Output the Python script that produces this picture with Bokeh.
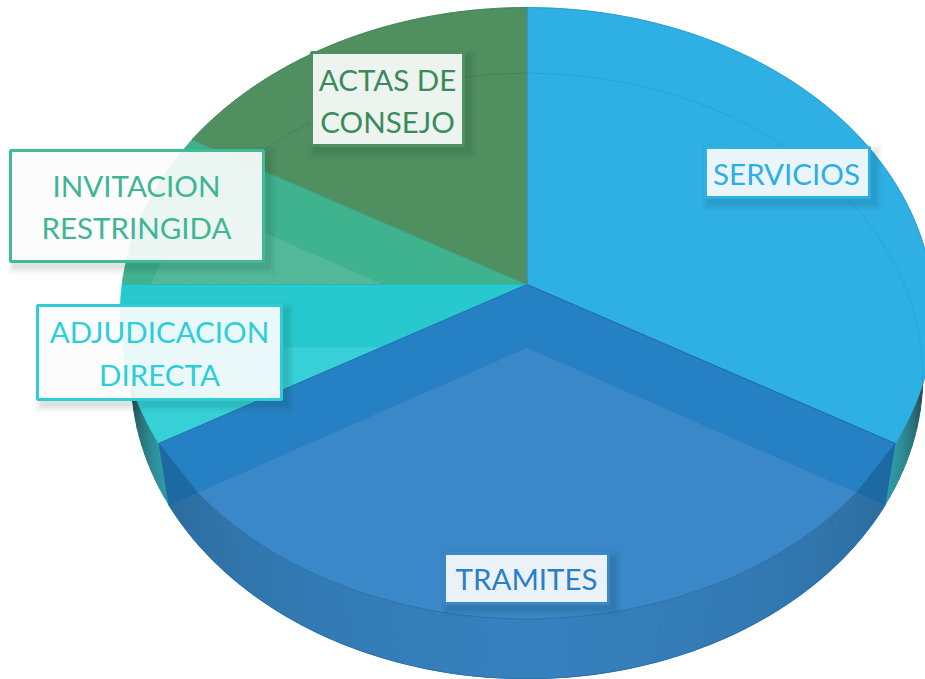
import math
from bokeh.plotting import figure
from bokeh.models import ColumnDataSource, Range1d
from bokeh.core.properties import value
from bokeh.embed import file_html
from bokeh.resources import INLINE

# ---- data ----
slice_names = ["SERVICIOS", "TRAMITES", "ADJUDICACION DIRECTA", "INVITACION RESTRINGIDA", "ACTAS DE CONSEJO"]
slice_values = [4, 4, 1, 1, 2]
slice_colors = ["#2EB0E4", "#2581C4", "#27C9CE", "#3FB28E", "#4F8F60"]
label_lines = [["SERVICIOS"], ["TRAMITES"], ["ADJUDICACION", "DIRECTA"], ["INVITACION", "RESTRINGIDA"], ["ACTAS DE", "CONSEJO"]]
text_colors = ["#2DAEE6", "#2A80C6", "#2DCED8", "#40B595", "#3A8A5C"]
border_colors = ["#2EB0E4", "#3A88C8", "#2DCCD6", "#42BA99", "#4F8F60"]

# label boxes: left, right, top, bottom; first line centre and line step
boxes = [(705, 869, 147, 197), (444, 608, 553, 603), (37, 281, 305, 399), (10, 263, 150, 261), (311, 463, 52, 145)]
text_xy = [(786, 173, 0), (526, 578, 0), (159, 331, 43), (136, 185, 42), (387, 79, 42)]

# ---- projection of the tilted disc ----
CX, RIM_Y, FLOOR_Y = 526.5, 284.0, 347.0
K = 0.094
RIM_W, RIM_H = 405.0, 303.0
FLOOR_W, FLOOR_H = 394.0, 300.0


def proj(theta, cy, W, H):
    a = math.radians(theta)
    u, v = math.sin(a), math.cos(a)
    w = 1 + K * v
    return CX + W * u / w, cy - H * v / w


def rim(t):
    return proj(t, RIM_Y, RIM_W, RIM_H)


def floor_(t):
    return proj(t, FLOOR_Y, FLOOR_W, FLOOR_H)


def rim_uv(x, y):
    Y = RIM_Y - y
    v = Y / (RIM_H - K * Y)
    u = (x - CX) * (1 + K * v) / RIM_W
    return u, v


def inside_rim(x, y):
    u, v = rim_uv(x, y)
    return u * u + v * v <= 1


def rim_angle(x, y):
    u, v = rim_uv(x, y)
    return math.degrees(math.atan2(u, v)) % 360


def arc(fn, a, b, n=48):
    return [fn(a + (b - a) * i / n) for i in range(n + 1)]


def lerp_hex(c1, c2, t):
    a = [int(c1[i:i + 2], 16) for i in (1, 3, 5)]
    b = [int(c2[i:i + 2], 16) for i in (1, 3, 5)]
    return "#%02x%02x%02x" % tuple(round(p + (q - p) * t) for p, q in zip(a, b))


total = sum(slice_values)
edges = [0.0]
for val in slice_values:
    edges.append(edges[-1] + 360.0 * val / total)
A_SERV, A_TRAM, A_ADJ, A_INV, A_ACT = edges[1], edges[2], edges[3], edges[4], edges[5]

p = figure(width=925, height=679, output_backend="svg", toolbar_location=None,
           x_range=Range1d(0, 925), y_range=Range1d(679, 0), min_border=0)
p.axis.visible = False
p.grid.visible = False
p.outline_line_color = None
p.background_fill_color = "white"
p.border_fill_color = "white"


def poly(points, fill, line=None, alpha=1.0, lw=1.0):
    xs = [q[0] for q in points]
    ys = [q[1] for q in points]
    p.patch(xs, ys, fill_color=fill, fill_alpha=alpha,
            line_color=line if line else fill, line_width=lw if line else 0.6, line_alpha=alpha if not line else 1)


def strips(quads, colors):
    src = ColumnDataSource(dict(x=[[q[0] for q in qd] for qd in quads],
                                y=[[q[1] for q in qd] for qd in quads], c=colors))
    p.patches("x", "y", source=src, fill_color="c", line_color="c", line_width=1.0)


def line_between(pts, color, lw=1.0, alpha=1.0):
    p.line([q[0] for q in pts], [q[1] for q in pts], line_color=color, line_width=lw, line_alpha=alpha)


def cross_line(end):
    lo, hi = (CX, FLOOR_Y), end
    for _ in range(50):
        mid = ((lo[0] + hi[0]) / 2, (lo[1] + hi[1]) / 2)
        if inside_rim(*mid):
            lo = mid
        else:
            hi = mid
    return lo


def cross_arc(start, step):
    t = start
    while not inside_rim(*floor_(t)):
        t += step
    return t


# --- side wall of the large front slice ---
N = 70
quads, cols = [], []
for i in range(N):
    t0 = A_SERV + (A_TRAM - A_SERV) * i / N
    t1 = A_SERV + (A_TRAM - A_SERV) * (i + 1) / N
    quads.append([rim(t0), rim(t1), floor_(t1), floor_(t0)])
    d = abs((t0 + t1) / 2 - 180) / 60
    cols.append(lerp_hex("#3680BD", "#2C6C9E", d ** 1.6))
strips(quads, cols)
line_between(arc(floor_, A_SERV, A_TRAM, 90), "#2B74AE", 1.2)

# --- small side walls at both ends ---
tf_l = cross_arc(A_TRAM, 0.25)
tr_l = rim_angle(*floor_(tf_l))
tf_r = cross_arc(A_SERV, -0.25)
tr_r = rim_angle(*floor_(tf_r))
M = 14
for fa, fb, ra, rb in ((A_TRAM, tf_l, A_TRAM, tr_l), (A_SERV, tf_r, A_SERV, tr_r)):
    quads, cols = [], []
    for i in range(M):
        s0, s1 = i / M, (i + 1) / M
        quads.append([rim(ra + (rb - ra) * s0), rim(ra + (rb - ra) * s1),
                      floor_(fa + (fb - fa) * s1), floor_(fa + (fb - fa) * s0)])
        cols.append(lerp_hex("#2F9DA6", "#24474F", s1 ** 1.3))
    strips(quads, cols)

# --- top surface slices ---
for name, a, b, col in zip(slice_names, edges[:-1], edges[1:], slice_colors):
    pts = [(CX, RIM_Y)] + arc(rim, a, b, 70)
    poly(pts, col)

# lighter floor seen through the cyan slice
edge_end = rim(A_TRAM)
sl = (edge_end[0] - CX) / (edge_end[1] - RIM_Y)
tip = (CX + sl * (FLOOR_Y - RIM_Y), FLOOR_Y)
poly([tip] + arc(floor_, A_ADJ, tf_l, 20) + arc(rim, tr_l, A_TRAM, 10), "#36D0D6")

# lighter floor seen through the invitation slice
fl_300 = floor_(A_INV)
sl2 = (fl_300[0] - CX) / (fl_300[1] - FLOOR_Y)
tip2 = (CX + sl2 * (RIM_Y - FLOOR_Y), RIM_Y)
t_low = A_ADJ
while floor_(t_low)[1] > RIM_Y:
    t_low += 0.1
poly([tip2] + arc(floor_, t_low, A_INV, 24), "#52B898")
line_between([tip2, fl_300], "#3DAD89", 0.8, 0.6)

# --- inner wall and front face of the large slice ---
r_s, r_t, f_s, f_t = rim(A_SERV), rim(A_TRAM), floor_(A_SERV), floor_(A_TRAM)
poly([(CX, RIM_Y), r_s, f_s, (CX, FLOOR_Y), f_t, r_t], "#2581C4")
cr_r, cr_l = cross_line(f_s), cross_line(f_t)
poly([r_s, cr_r, f_s], "#1D69A2")
poly([r_t, cr_l, f_t], "#1D69A2")
ta, tb = rim_angle(*cr_r), rim_angle(*cr_l)
poly([(CX, FLOOR_Y)] + arc(rim, ta, tb, 90), "#3A88C8")
line_between(arc(rim, ta, tb, 90), "#2C72AC", 1.0)
line_between([(CX, FLOOR_Y), cr_r], "#2C7DBB", 0.8)
line_between([(CX, FLOOR_Y), cr_l], "#2C7DBB", 0.8)

# --- thin seams ---
line_between([(CX, RIM_Y), r_s], "#1F6FA8", 1.0)
line_between([(CX, RIM_Y), r_t], "#1F75B0", 1.0)
line_between([(CX, RIM_Y), rim(A_ADJ)], "#22B6C6", 1.2)
line_between([(CX, RIM_Y), rim(A_INV)], "#3C9F7D", 0.8)
line_between([(CX, RIM_Y), rim(0)], "#3B8E9A", 1.0)
line_between(arc(floor_, tf_r, 0, 60), "#1A9ACC", 0.8, 0.55)
line_between(arc(floor_, 360, A_INV, 30), "#3D7F51", 0.9, 0.6)
line_between(arc(floor_, A_INV, t_low, 14), "#3CA584", 0.9, 0.8)
line_between(arc(rim, 0, tr_r, 60), "#2496C8", 1.0, 0.8)
line_between(arc(rim, A_ACT, A_INV, 40), "#3F7F52", 1.0, 0.8)

# --- labels ---
for i, (l, r, t, b) in enumerate(boxes):
    for grow, alpha in ((8, 0.025), (6, 0.03), (4, 0.04), (2, 0.05)):
        p.quad(left=[l - grow + 5], right=[r + grow + 5], top=[t - grow + 5], bottom=[b + grow + 5],
               fill_color="#103020", fill_alpha=alpha, line_color=None)
    p.quad(left=[l], right=[r], top=[t], bottom=[b], fill_color="white", fill_alpha=0.9,
           line_color=border_colors[i], line_width=3)
    x, y0, step = text_xy[i]
    for j, txt in enumerate(label_lines[i]):
        p.text([x], [y0 + j * step], text=[txt], text_color=text_colors[i],
               text_font=value("Lato"), text_font_size="29.5px",
               text_align="center", text_baseline="middle")

open("out.html", "w").write(file_html(p, INLINE))
